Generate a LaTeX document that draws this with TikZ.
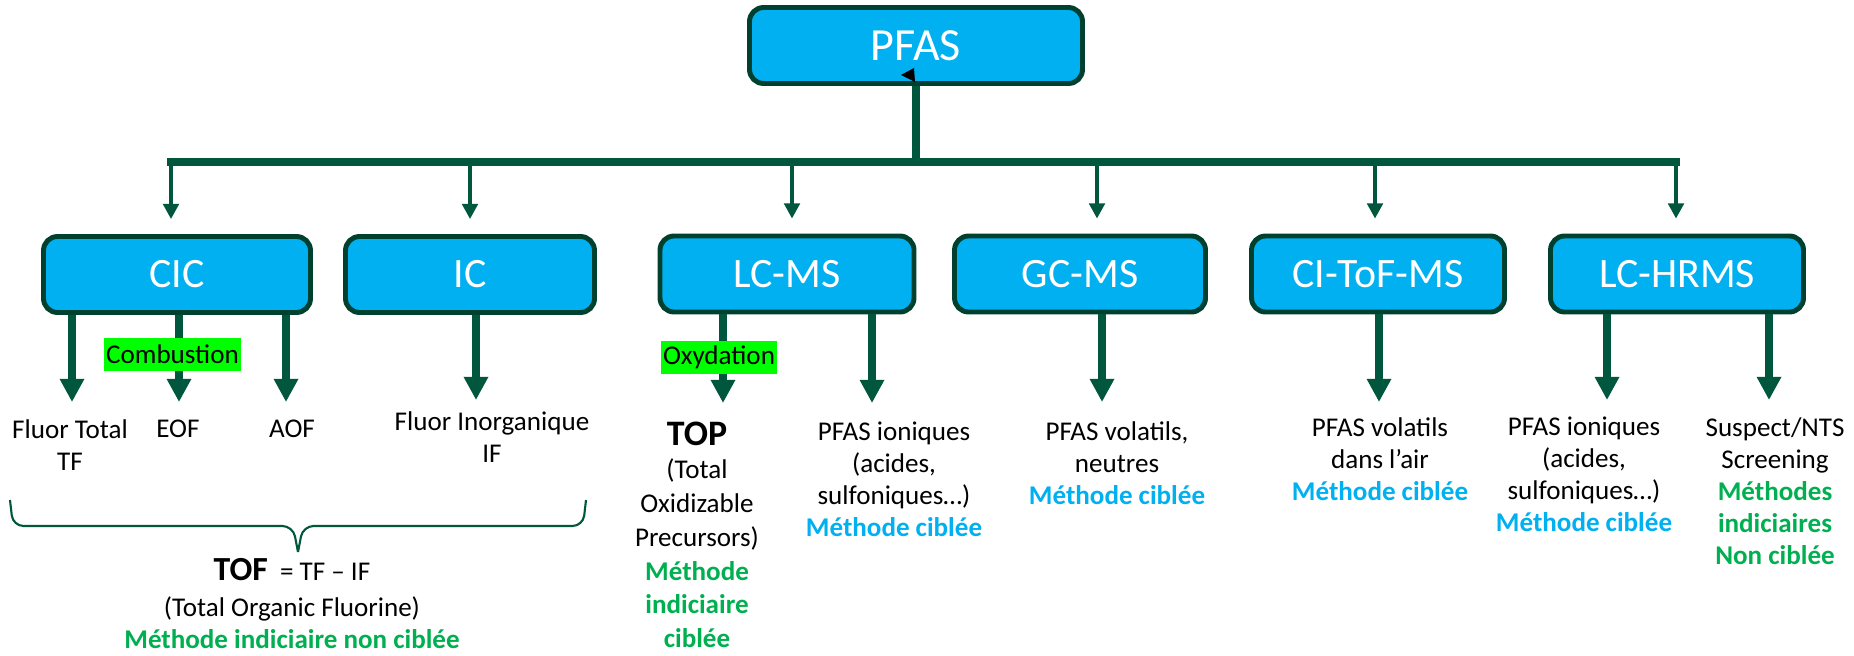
\documentclass[tikz,border=0pt]{standalone}
\usepackage{fontspec}
\setmainfont{Carlito}
\usetikzlibrary{arrows.meta, positioning, calc}
\definecolor{pblue}{HTML}{00B0F0}
\definecolor{pedge}{HTML}{00402F}
\definecolor{pgreen}{HTML}{00573D}
\definecolor{mgreen}{HTML}{00B050}
\definecolor{hlgreen}{HTML}{00FF00}
\newcommand{\cible}[1]{{\color{pblue}\bfseries #1}}
\newcommand{\indic}[1]{{\color{mgreen}\bfseries #1}}
\tikzset{
  tech/.style={
    draw=pedge, fill=pblue, line width=1.4pt, rounded corners=4pt,
    text=white, minimum height=0.76cm, minimum width=#1,
    font=\fontsize{11.9}{14}\selectfont
  },
  tech/.default=2.53cm,
  lbl/.style={align=center, inner sep=0pt, anchor=north,
    font=\fontsize{7.7}{9.1}\selectfont},
  feed/.style={draw=pgreen, line width=1pt,
    -{Triangle[width=4.4pt, length=4.3pt]}, shorten >=0.15cm},
  down/.style={draw=pgreen, line width=2.1pt,
    -{Triangle[width=6.6pt, length=6.6pt]}},
  trunk/.style={draw=pgreen, line width=2.2pt},
  hl/.style={fill=hlgreen, inner xsep=0.6pt, inner ysep=0pt,
    minimum height=0.33cm, font=\fontsize{7.7}{9.1}\selectfont},
  bracel/.style={draw=pgreen, line width=0.6pt, rounded corners=3pt}
}
\begin{document}
\begin{tikzpicture}
  \useasboundingbox (0,0) rectangle (18.54,-6.55);

  \node[tech=3.33cm, font=\fontsize{13.1}{15}\selectfont] (pfas) at (9.16,-0.455) {PFAS};

  \node[tech=2.67cm] (cic)    at (1.77,-2.745)  {CIC};
  \node[tech=2.49cm] (ic)     at (4.70,-2.745)  {IC};
  \node[tech=2.54cm] (lcms)   at (7.87,-2.74)   {LC-MS};
  \node[tech=2.51cm] (gcms)   at (10.80,-2.74)  {GC-MS};
  \node[tech]        (citof)  at (13.78,-2.74)  {CI-ToF-MS};
  \node[tech]        (lchrms) at (16.77,-2.74)  {LC-HRMS};

  \coordinate (b1) at (1.71,-1.62);
  \coordinate (b2) at (4.70,-1.62);
  \coordinate (b3) at (7.92,-1.62);
  \coordinate (b4) at (10.97,-1.62);
  \coordinate (b5) at (13.75,-1.62);
  \coordinate (b6) at (16.76,-1.62);

  \draw[trunk] (pfas.south) -- (pfas.south |- b1);
  \draw[trunk, line cap=rect] (b1) -- (b6);
  \fill[black] (9.14,-0.68) -- (9.01,-0.75) -- (9.15,-0.82) -- cycle;

  \foreach \b/\n in {b1/cic, b2/ic, b3/lcms, b4/gcms, b5/citof, b6/lchrms}
    \draw[feed] (\b) -- (\b |- \n.north);

  \coordinate (tTF)   at (0.72,-4.02);
  \coordinate (tEOF)  at (1.79,-4.02);
  \coordinate (tAOF)  at (2.86,-4.02);
  \coordinate (tIF)   at (4.76,-4.00);
  \coordinate (tTOP)  at (7.23,-4.03);
  \coordinate (tION)  at (8.72,-4.03);
  \coordinate (tGC)   at (11.02,-4.02);
  \coordinate (tCI)   at (13.79,-4.02);
  \coordinate (tIONb) at (16.07,-4.00);
  \coordinate (tNTS)  at (17.69,-4.00);

  \foreach \n/\t in {cic/tTF, cic/tEOF, cic/tAOF, ic/tIF, lcms/tTOP, lcms/tION,
      gcms/tGC, citof/tCI, lchrms/tIONb, lchrms/tNTS}
    \draw[down] (\n.south -| \t) -- (\t);

  \node[hl] (comb) at (1.725,-3.545) {Combustion};
  \node[hl] (oxy)  at (7.19,-3.575)  {Oxydation};

  \node[lbl] (tf)    at (0.70,-4.19) {Fluor Total\\TF};
  \node[lbl] (eof)   at (1.78,-4.19) {EOF};
  \node[lbl] (aof)   at (2.92,-4.19) {AOF};
  \node[lbl] (inorg) at (4.92,-4.11) {Fluor Inorganique\\IF};

  \node[lbl, font=\fontsize{7.7}{9.6}\selectfont] (top) at (6.97,-4.21)
    {{\fontsize{10.2}{12}\selectfont\bfseries TOP}\\(Total\\Oxidizable\\Precursors)\\
     \indic{Méthode}\\\indic{indiciaire}\\\indic{ciblée}};
  \node[lbl] (ion)  at (8.94,-4.21)  {PFAS ioniques\\(acides,\\sulfoniques…)\\\cible{Méthode ciblée}};
  \node[lbl] (gcl)  at (11.17,-4.21) {PFAS volatils,\\neutres\\\cible{Méthode ciblée}};
  \node[lbl] (cil)  at (13.80,-4.17) {PFAS volatils\\dans l’air\\\cible{Méthode ciblée}};
  \node[lbl] (ionb) at (15.84,-4.16) {PFAS ioniques\\(acides,\\sulfoniques…)\\\cible{Méthode ciblée}};
  \node[lbl] (nts)  at (17.75,-4.17) {Suspect/NTS\\Screening\\\indic{Méthodes}\\\indic{indiciaires}\\\indic{Non ciblée}};

  \draw[bracel] (0.10,-5.00) -- (0.13,-5.26) -- (2.93,-5.26) -- (2.98,-5.52);
  \draw[bracel] (5.86,-5.00) -- (5.83,-5.26) -- (3.03,-5.26) -- (2.98,-5.52);

  \node[lbl] (tof) at (2.92,-5.58)
    {{\fontsize{9.6}{11}\selectfont\bfseries TOF} ~= TF – IF\\[1pt](Total Organic Fluorine)\\
     \indic{Méthode indiciaire non ciblée}};
\end{tikzpicture}
\end{document}
